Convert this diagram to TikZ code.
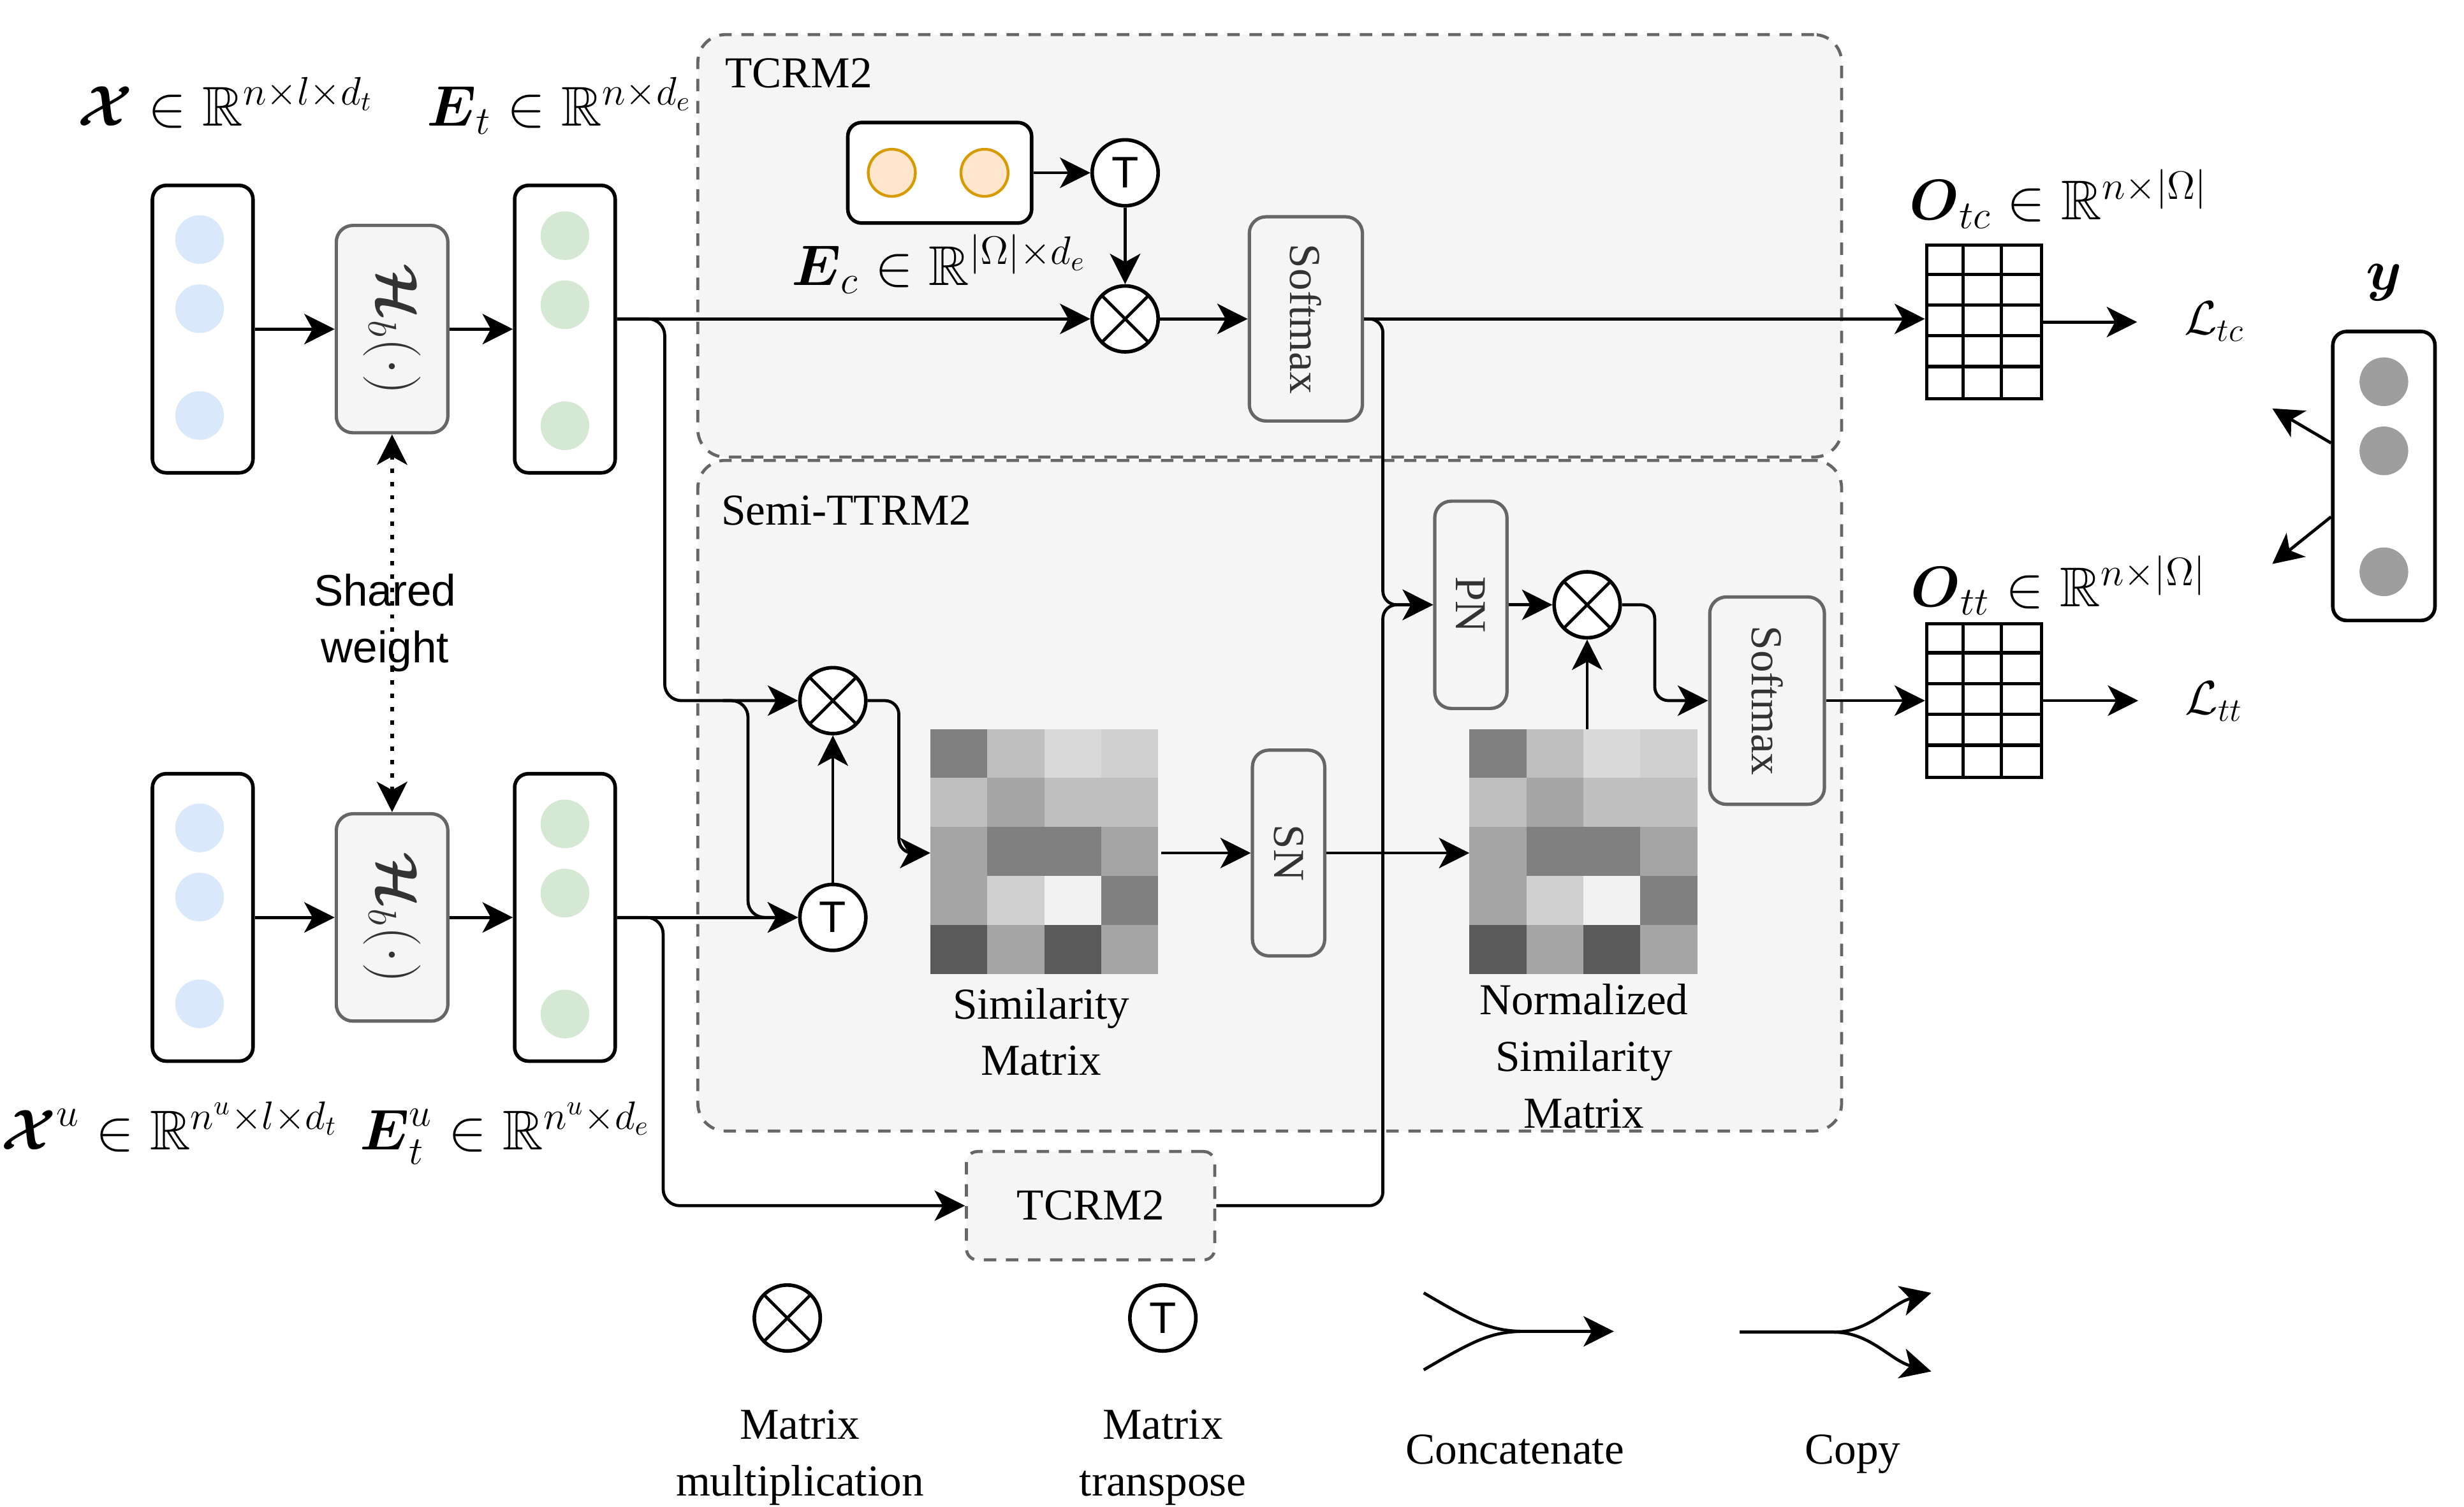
\documentclass[tikz,border=0pt]{standalone}
\usepackage[no-math]{fontspec}
\setmainfont{Liberation Serif}
\setsansfont{Liberation Sans}
\usepackage{amsmath,amssymb}
\usetikzlibrary{arrows.meta,calc,positioning}

\definecolor{panelfill}{HTML}{F5F5F5}
\definecolor{panelline}{HTML}{666666}
\definecolor{boxtext}{HTML}{333333}
\definecolor{bluedot}{HTML}{DAE8FC}
\definecolor{greendot}{HTML}{D5E8D4}
\definecolor{orangefill}{HTML}{FFE6CC}
\definecolor{orangeline}{HTML}{D79B00}
\definecolor{graydot}{HTML}{9E9E9E}

\begin{document}
\begin{tikzpicture}[x=0.02cm,y=-0.02cm,line width=1.1pt,
    txt/.style={font=\fontsize{16}{20.5}\selectfont,inner sep=0pt},
    mathlbl/.style={font=\fontsize{20.3}{24}\selectfont,inner sep=0pt},
    losslbl/.style={font=\fontsize{18}{22}\selectfont,inner sep=0pt},
    arr/.style={-{Stealth[length=11pt,width=11pt,inset=3pt]},line width=1.1pt},
    vecbox/.style={draw,line width=1.3pt,rounded corners=5pt,fill=white,minimum width=1.28cm,minimum height=3.66cm},
    opbox/.style={draw=panelline,fill=panelfill,line width=1.2pt,rounded corners=6pt,text=boxtext,inner sep=0pt,font=\fontsize{16}{20.5}\selectfont},
    panel/.style={draw=panelline,fill=panelfill,line width=1.1pt,dash pattern=on 4.5pt off 3.5pt,rounded corners=10pt},
    mulop/.style={circle,draw,fill=white,line width=1.3pt,minimum size=0.84cm,inner sep=0pt,
        path picture={\draw[line width=1.1pt] (path picture bounding box.north west) -- (path picture bounding box.south east)
                      (path picture bounding box.south west) -- (path picture bounding box.north east);}},
    trop/.style={circle,draw,fill=white,line width=1.3pt,minimum size=0.84cm,inner sep=0pt,font=\sffamily\fontsize{16}{19}\selectfont},
    gridbox/.style={draw,line width=1.2pt,minimum width=1.46cm,minimum height=1.96cm,inner sep=0pt},
    simbox/.style={inner sep=0pt,minimum width=2.9cm,minimum height=3.12cm},
    weightln/.style={{Stealth[length=11pt,width=11pt,inset=3pt]}-{Stealth[length=11pt,width=11pt,inset=3pt]},line width=1.4pt,dash pattern=on 1.6pt off 3.2pt}]

    \useasboundingbox (0,0) rectangle (1568,959);

    % module panels
    \node[panel,minimum width=14.56cm,minimum height=5.38cm] (tcrm) at (808,156.5) {};
    \node[panel,minimum width=14.56cm,minimum height=8.54cm] (semi) at (808,506.5) {};
    \node[txt,anchor=base west] (tcrmlbl) at (460.5,55.7) {TCRM2};
    \node[txt,anchor=base west] (semilbl) at (458,334) {Semi-TTRM2};

    % encoders
    \node[vecbox] (xin) at (129,209.5) {};
    \node[opbox,minimum width=1.42cm,minimum height=2.64cm] (hb1) at (249.5,209.5) {\rotatebox{-90}{\fontsize{19.5}{23}\selectfont$\boldsymbol{\mathcal{H}}_b(\cdot)$}};
    \node[vecbox] (et) at (359.5,209.5) {};
    \node[vecbox] (xu) at (129,584) {};
    \node[opbox,minimum width=1.42cm,minimum height=2.64cm] (hb2) at (249.5,584) {\rotatebox{-90}{\fontsize{19.5}{23}\selectfont$\boldsymbol{\mathcal{H}}_b(\cdot)$}};
    \node[vecbox] (etu) at (359.5,584) {};
    \foreach \d in {-57,-13,55} {
        \fill[bluedot] ($(xin.center)+(-2,\d)$) circle (0.31cm);
        \fill[bluedot] ($(xu.center)+(-2,\d)$) circle (0.31cm);
    }
    \foreach \d in {-59.5,-15.5,61.5} {
        \fill[greendot] ($(et.center)+(0,\d)$) circle (0.31cm);
        \fill[greendot] ($(etu.center)+(0,\d)$) circle (0.31cm);
    }

    % labels of the inputs
    \node[mathlbl,anchor=base] (xlbl) at (143.5,80) {$\boldsymbol{\mathcal{X}} \in \mathbb{R}^{n\times l\times d_t}$};
    \node[mathlbl,anchor=base] (etlbl) at (356,80) {$\boldsymbol{E}_t \in \mathbb{R}^{n\times d_e}$};
    \node[mathlbl,anchor=base] (xulbl) at (108,732) {$\boldsymbol{\mathcal{X}}^u \in \mathbb{R}^{n^u\times l\times d_t}$};
    \node[mathlbl,anchor=base] (etulbl) at (321.5,732) {$\boldsymbol{E}_t^u \in \mathbb{R}^{n^u\times d_e}$};

    % shared weight
    \node[txt,font=\sffamily\fontsize{16}{20.5}\selectfont,align=center,anchor=north] (shared) at (245,364.5) {Shared\\weight};
    \draw[weightln] (hb1.south) -- (hb2.north);

    % TCRM2 branch
    \node[vecbox,minimum width=2.34cm,minimum height=1.28cm] (emb) at (598,110) {};
    \foreach \d in {-30.5,28.5}
        \filldraw[fill=orangefill,draw=orangeline,line width=1pt] ($(emb.center)+(\d,0)$) circle (0.3cm);
    \node[mathlbl,anchor=base] (eclbl) at (597.5,181.6) {$\boldsymbol{E}_c \in \mathbb{R}^{|\Omega|\times d_e}$};
    \node[trop] (tr1) at (716,110) {T};
    \node[mulop] (mul1) at (716,203) {};
    \node[opbox,minimum width=1.44cm,minimum height=2.6cm] (sm1) at (831,203) {\rotatebox{-90}{Softmax}};

    % Semi-TTRM2 branch
    \node[mulop] (mul3) at (530,446) {};
    \node[trop] (tr2) at (530,584) {T};
    \node[simbox] (simm) at (665.5,543) {};
    \node[opbox,minimum width=0.92cm,minimum height=2.62cm] (sn) at (820,543) {\rotatebox{-90}{SN}};
    \node[simbox] (nsim) at (1008.5,543) {};
    \node[opbox,minimum width=0.92cm,minimum height=2.64cm] (pn) at (936,385) {\rotatebox{-90}{PN}};
    \node[mulop] (mul2) at (1010,385) {};
    \node[opbox,minimum width=1.46cm,minimum height=2.64cm] (sm2) at (1124.5,446) {\rotatebox{-90}{Softmax}};
    \node[panel,rounded corners=4pt,minimum width=3.16cm,minimum height=1.38cm,font=\fontsize{16}{20.5}\selectfont] (tcrmb) at (694,767.5) {TCRM2};

    % similarity matrices
    \foreach \m in {simm,nsim}
        \foreach \row [count=\r] in {{128,191,217,208},{191,165,191,191},{165,128,128,165},{165,208,242,128},{90,165,90,165}}
            \foreach \v [count=\c] in \row {
                \pgfmathsetmacro{\k}{100*(1-\v/255)}
                \fill[black!\k] ($(\m.north west)+({(\c-1)*36.25},{(\r-1)*31.2})$) rectangle ++(36.25,31.2);
            }
    \node[txt,align=center,anchor=north] (simlbl) at (662.5,628) {Similarity\\Matrix};
    \node[txt,align=center,anchor=north] (nsimlbl) at (1008,625.4) {Normalized\\Similarity\\Matrix};

    % outputs
    \node[gridbox] (og1) at (1262.5,205) {};
    \node[gridbox] (og2) at (1262.5,446) {};
    \foreach \g in {og1,og2} {
        \foreach \i in {1,2}
            \draw[line width=1.2pt] ($(\g.north west)+(\i*24.33,0)$) -- ($(\g.south west)+(\i*24.33,0)$);
        \foreach \j in {1,...,4}
            \draw[line width=1.2pt] ($(\g.north west)+(0,\j*19.6)$) -- ($(\g.north east)+(0,\j*19.6)$);
    }
    \node[mathlbl,anchor=base] (otclbl) at (1310,140) {$\boldsymbol{O}_{tc} \in \mathbb{R}^{n\times|\Omega|}$};
    \node[mathlbl,anchor=base] (ottlbl) at (1310,386) {$\boldsymbol{O}_{tt} \in \mathbb{R}^{n\times|\Omega|}$};
    \node[losslbl,anchor=base] (ltc) at (1409,212.7) {$\mathcal{L}_{tc}$};
    \node[losslbl,anchor=base] (ltt) at (1409,454.7) {$\mathcal{L}_{tt}$};

    % labels y
    \node[vecbox,minimum width=1.3cm,minimum height=3.68cm] (ybox) at (1517,303) {};
    \foreach \d in {-60,-16,61}
        \fill[graydot] ($(ybox.center)+(0,\d)$) circle (0.31cm);
    \node[mathlbl,anchor=base] (ylbl) at (1517,184.5) {$\boldsymbol{y}$};
    \coordinate (ya) at (1446,260);
    \coordinate (yb) at (1446,359);

    % connectors
    \draw[arr] (xin.east) -- (hb1.west);
    \draw[arr] (hb1.east) -- (et.west);
    \draw[arr] (xu.east) -- (hb2.west);
    \draw[arr] (hb2.east) -- (etu.west);
    \draw[arr] (emb.east) -- (tr1.west);
    \draw[arr] (tr1.south) -- (mul1.north);
    \draw[arr] (et.east |- mul1.west) -- (mul1.west);
    \draw[arr] (mul1.east) -- (sm1.west);
    \draw[arr] (sm1.east) -- (sm1.east -| og1.west);
    \draw[arr,shorten >=0.58cm] (og1.east) -- (og1.east -| ltc.west);
    \draw[arr,rounded corners=6pt] (et.east |- mul1.west) -| (423,446) -- (mul3.west);
    \draw[arr,rounded corners=6pt] (460,446) -| (476,584) -- (tr2.west);
    \draw[arr] (etu.east) -- (tr2.west);
    \draw[arr,rounded corners=6pt] (etu.east) -| (422,767.5) -- (tcrmb.west);
    \draw[arr] (tr2.north) -- (mul3.south);
    \draw[arr,rounded corners=5pt] (mul3.east) -| (572,543) -- (simm.west);
    \draw[arr] (simm.east) -- (sn.west);
    \draw[arr] (sn.east) -- (nsim.west);
    \draw[arr] (nsim.north -| mul2.south) -- (mul2.south);
    \draw[arr] (pn.east) -- (mul2.west);
    \draw[arr,rounded corners=5pt] (mul2.east) -| (1053,446) -- (sm2.west);
    \draw[arr,rounded corners=5pt] (sm1.east) -| (880,385) -- (pn.west);
    \draw[arr,rounded corners=5pt] (tcrmb.east) -| (880,385) -- (pn.west);
    \draw[arr] (sm2.east) -- (sm2.east -| og2.west);
    \draw[arr,shorten >=0.58cm] (og2.east) -- (og2.east -| ltt.west);
    \draw[arr] ($(ybox.west)+(0,-21)$) -- (ya);
    \draw[arr] ($(ybox.west)+(0,26)$) -- (yb);

    % legend
    \node[mulop] (lmul) at (501,839) {};
    \node[trop] (ltr) at (740,839) {T};
    \node[txt,align=center,anchor=north] (lmultxt) at (509,896.5) {Matrix\\multiplication};
    \node[txt,align=center,anchor=north] (ltrtxt) at (740,896.5) {Matrix\\transpose};
    \node[txt,anchor=base] (lcattxt) at (964,932) {Concatenate};
    \node[txt,anchor=base] (lcpytxt) at (1179,932) {Copy};
    \coordinate (cat1) at (906,823);
    \coordinate (cat2) at (906,872);
    \coordinate (catj) at (971,847.5);
    \coordinate (cate) at (1027,847.5);
    \draw (cat1) .. controls (940,843) and (950,847.5) .. (catj);
    \draw (cat2) .. controls (940,852) and (950,847.5) .. (catj);
    \draw[arr] (catj) -- (cate);
    \coordinate (cpy0) at (1107,848);
    \coordinate (cpyj) at (1167,848);
    \coordinate (cpy1) at (1229,823);
    \coordinate (cpy2) at (1229,873);
    \draw (cpy0) -- (cpyj);
    \draw[arr] (cpyj) .. controls (1190,848) and (1203,830) .. (cpy1);
    \draw[arr] (cpyj) .. controls (1190,848) and (1203,866) .. (cpy2);
\end{tikzpicture}
\end{document}
